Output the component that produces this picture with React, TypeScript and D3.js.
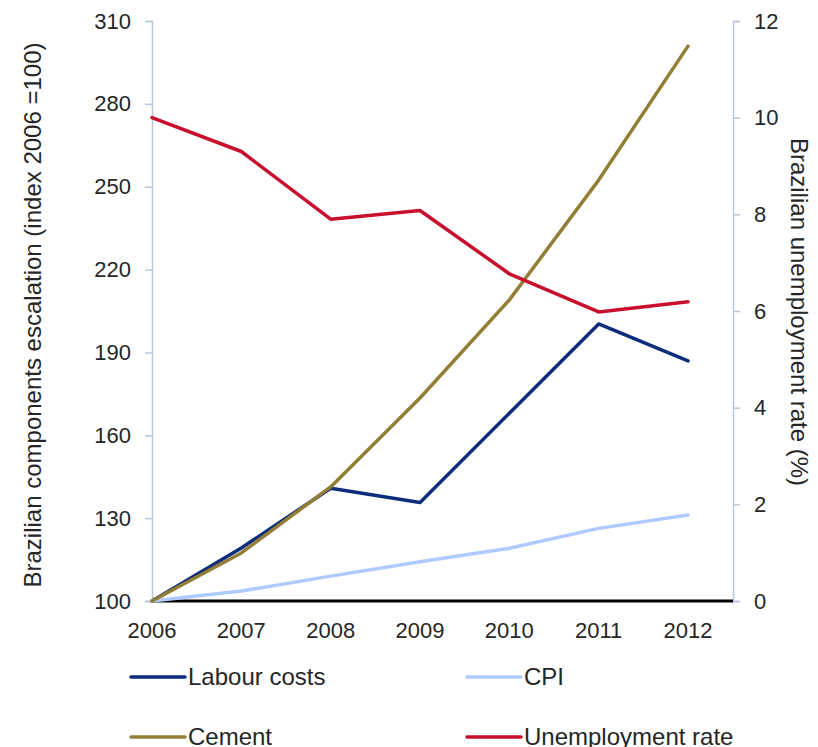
import * as d3 from 'd3';
import React, { useEffect, useRef } from 'react';

const years = ['2006', '2007', '2008', '2009', '2010', '2011', '2012'];
const labourCosts = [100, 119.2, 140.8, 135.7, 168, 200.3, 186.9];
const cpi = [100, 103.6, 109, 114.2, 119.1, 126.3, 131.1];
const cement = [100, 117.4, 141.3, 173.5, 209, 252.4, 300.9];
const unemployment = [10.0, 9.3, 7.9, 8.08, 6.77, 5.98, 6.19];
const leftTicks = [100, 130, 160, 190, 220, 250, 280, 310];
const rightTicks = [0, 2, 4, 6, 8, 10, 12];

const series = [
  { name: 'Labour costs', values: labourCosts, color: '#0b2d7c', axis: 'left' },
  { name: 'CPI', values: cpi, color: '#afcaff', axis: 'left' },
  { name: 'Cement', values: cement, color: '#927e35', axis: 'left' },
  { name: 'Unemployment rate', values: unemployment, color: '#c8102e', axis: 'right' },
];

const App = () => {
  const ref = useRef<SVGSVGElement | null>(null);

  useEffect(() => {
    if (!ref.current) return;
    const svg = d3.select(ref.current);
    svg.selectAll('*').remove();

    const left = 152;
    const right = 733;
    const top = 21;
    const bottom = 601;
    const font = 'Liberation Sans, Arial, sans-serif';
    const axisColor = '#bac6d8';
    const textColor = '#262626';

    const x = d3.scalePoint().domain(years).range([left, 688]);
    const yL = d3.scaleLinear().domain([100, 310]).range([bottom, top]);
    const yR = d3.scaleLinear().domain([0, 12]).range([bottom, top]);

    // left axis
    const gl = svg.append('g').attr('transform', `translate(${left},0)`).call(d3.axisLeft(yL).tickValues(leftTicks).tickSize(7).tickPadding(14));
    gl.selectAll('path,line').attr('stroke', axisColor).attr('stroke-width', 1.5);
    gl.selectAll('text').attr('fill', textColor).style('font-size', '22px').style('font-family', font);

    // right axis
    const gr = svg.append('g').attr('transform', `translate(${right},0)`).call(d3.axisRight(yR).tickValues(rightTicks).tickSize(7).tickPadding(14));
    gr.selectAll('path,line').attr('stroke', axisColor).attr('stroke-width', 1.5);
    gr.selectAll('text').attr('fill', textColor).style('font-size', '22px').style('font-family', font);

    // baseline
    svg.append('line').attr('x1', left).attr('x2', right).attr('y1', bottom).attr('y2', bottom).attr('stroke', '#000').attr('stroke-width', 3);

    // x labels
    svg.selectAll('.xl')
      .data(years)
      .enter()
      .append('text')
      .attr('x', (d) => x(d))
      .attr('y', 638)
      .attr('text-anchor', 'middle')
      .attr('fill', textColor)
      .style('font-size', '22px')
      .style('font-family', font)
      .text((d) => d);

    // titles
    svg.append('text')
      .attr('transform', `translate(41,${(top + bottom) / 2 + 4}) rotate(-90)`)
      .attr('text-anchor', 'middle')
      .attr('fill', textColor)
      .style('font-size', '24px')
      .style('font-family', font)
      .text('Brazilian components escalation  (index 2006 =100)');
    svg.append('text')
      .attr('transform', `translate(791,${(top + bottom) / 2 + 1}) rotate(90)`)
      .attr('text-anchor', 'middle')
      .attr('fill', textColor)
      .style('font-size', '24px')
      .style('font-family', font)
      .text('Brazilian unemployment rate (%)');

    // lines
    series.forEach((s) => {
      const yS = s.axis === 'left' ? yL : yR;
      const line = d3.line<number>().x((d, i) => x(years[i]) as number).y((d) => yS(d));
      svg.append('path')
        .datum(s.values)
        .attr('d', line)
        .attr('fill', 'none')
        .attr('stroke', s.color)
        .attr('stroke-width', 3.5)
        .attr('stroke-linejoin', 'round')
        .attr('stroke-linecap', 'round');
    });

    // legend
    const legendPos = [
      { x: 131, y: 677 },
      { x: 467, y: 677 },
      { x: 131, y: 737 },
      { x: 467, y: 737 },
    ];
    series.forEach((s, i) => {
      const p = legendPos[i];
      svg.append('line').attr('x1', p.x).attr('x2', p.x + 54).attr('y1', p.y).attr('y2', p.y).attr('stroke', s.color).attr('stroke-width', 3.5).attr('stroke-linecap', 'round');
      svg.append('text')
        .attr('x', p.x + 57)
        .attr('y', p.y + 8)
        .attr('fill', textColor)
        .style('font-size', '24px')
        .style('font-family', font)
        .text(s.name);
    });
  }, []);

  return <svg ref={ref} width={818} height={747} style={{ position: 'absolute', left: 0, top: 0, background: '#fff' }} />;
};

export default App;
